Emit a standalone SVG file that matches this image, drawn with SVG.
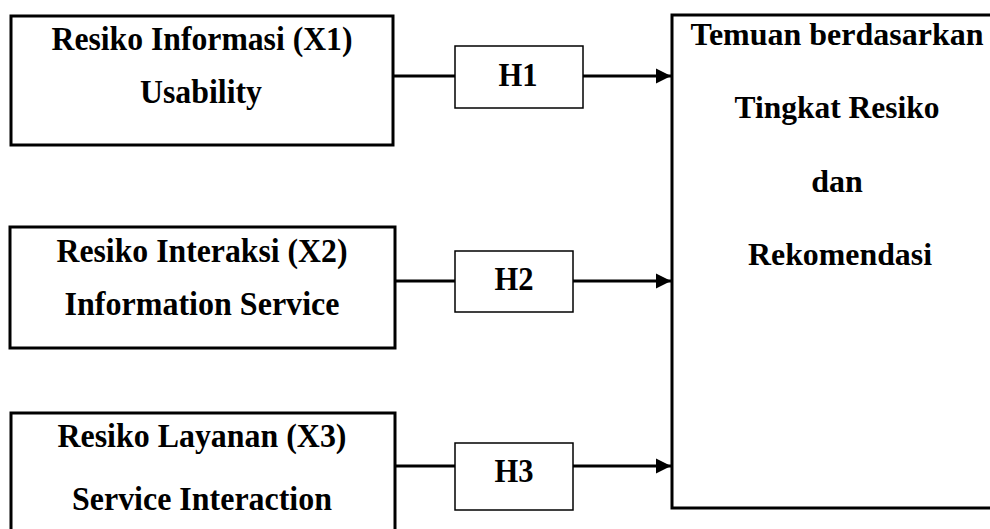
<svg xmlns="http://www.w3.org/2000/svg" width="990" height="529" viewBox="0 0 990 529">
<defs>
<style>
.big{fill:#fff;stroke:#000;stroke-width:3}
.h{fill:#fff;stroke:#000;stroke-width:1.5}
.t{font-family:"Liberation Serif","Times New Roman",serif;font-weight:bold;font-size:32px;fill:#000;text-anchor:middle}
.l{font-size:34px}
.c{stroke:#000;stroke-width:3;fill:none}
</style>
<marker id="arr" markerUnits="userSpaceOnUse" markerWidth="16" markerHeight="16" refX="15" refY="8" orient="auto">
<path d="M0,0.5 L15,8 L0,15.5 Z" fill="#000"/>
</marker>
</defs>
<rect width="990" height="529" fill="#fff"/>
<g id="x1">
<rect class="big" x="11" y="16" width="382" height="129"/>
<text class="t l" x="202" y="50" textLength="301" lengthAdjust="spacingAndGlyphs">Resiko Informasi (X1)</text>
<text class="t l" x="201" y="103" textLength="122" lengthAdjust="spacingAndGlyphs">Usability</text>
</g>
<g id="x2">
<rect class="big" x="10" y="227" width="385" height="121"/>
<text class="t l" x="202" y="262" textLength="291" lengthAdjust="spacingAndGlyphs">Resiko Interaksi (X2)</text>
<text class="t l" x="202" y="315" textLength="275" lengthAdjust="spacingAndGlyphs">Information Service</text>
</g>
<g id="x3">
<rect class="big" x="11" y="413" width="384" height="130"/>
<text class="t l" x="202" y="447" textLength="289" lengthAdjust="spacingAndGlyphs">Resiko Layanan (X3)</text>
<text class="t l" x="202" y="510" textLength="260" lengthAdjust="spacingAndGlyphs">Service Interaction</text>
</g>
<g id="h1">
<rect class="h" x="455" y="46" width="128" height="62"/>
<text class="t" x="518" y="86" style="font-size:33px" textLength="39" lengthAdjust="spacingAndGlyphs">H1</text>
</g>
<g id="h2">
<rect class="h" x="455" y="251" width="118" height="61"/>
<text class="t" x="514" y="290" style="font-size:33px" textLength="39" lengthAdjust="spacingAndGlyphs">H2</text>
</g>
<g id="h3">
<rect class="h" x="455" y="443" width="118" height="67"/>
<text class="t" x="514" y="482" style="font-size:33px" textLength="39" lengthAdjust="spacingAndGlyphs">H3</text>
</g>
<g id="result">
<rect class="big" x="672" y="15" width="330" height="493"/>
<text class="t" x="837" y="45" textLength="293" lengthAdjust="spacingAndGlyphs">Temuan berdasarkan</text>
<text class="t" x="837" y="118" textLength="205" lengthAdjust="spacingAndGlyphs">Tingkat Resiko</text>
<text class="t" x="837" y="192">dan</text>
<text class="t" x="840" y="265" textLength="184" lengthAdjust="spacingAndGlyphs">Rekomendasi</text>
</g>
<g id="connectors">
<line class="c" x1="393" y1="76" x2="455" y2="76"/>
<line class="c" x1="583" y1="76" x2="671" y2="76" marker-end="url(#arr)"/>
<line class="c" x1="395" y1="281" x2="455" y2="281"/>
<line class="c" x1="573" y1="281" x2="671" y2="281" marker-end="url(#arr)"/>
<line class="c" x1="395" y1="466" x2="455" y2="466"/>
<line class="c" x1="573" y1="466" x2="671" y2="466" marker-end="url(#arr)"/>
</g>
</svg>
